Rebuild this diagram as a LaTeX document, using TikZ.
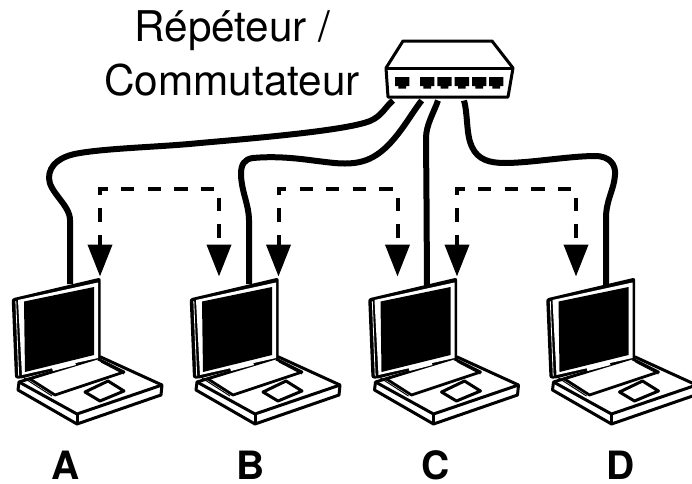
\documentclass[tikz,border=0pt]{standalone}
\usepackage{fontspec}
\setmainfont{TeX Gyre Heros}
\usetikzlibrary{arrows.meta}
\tikzset{
  x=1pt,y=-1pt,
  cable/.style={line width=6pt,line cap=butt,line join=round},
  dashlink/.style={line width=4pt,dash pattern=on 13.3pt off 13.3pt,dash phase=2.6pt,
     {Triangle[length=32pt,width=24pt,sep=0pt]}-{Triangle[length=32pt,width=24pt,sep=0pt]}},
  hull/.style={draw=black,fill=white,line width=3pt,line join=round},
  title/.style={font=\fontsize{42.3}{50}\selectfont,anchor=base,inner sep=0pt},
  letter/.style={font=\fontsize{39}{40}\selectfont\bfseries,anchor=base,inner sep=0pt},
  port/.pic={\fill[black] (0,0)--(14.4,0)--(14.4,9)--(11,9)--(11,11.5)--(3.4,11.5)--(3.4,9)--(0,9)--cycle;},
  laptop/.pic={
    % base
    \draw[hull] (19,382)--(18,390)--(77,424)--(161,395)--(162,385)--(100.7,357)--cycle;
    \draw[line width=3pt,line join=round] (19,382)--(77,414)--(162,385);
    \draw[line width=3pt] (77,414)--(77,424);
    \draw[line width=1pt] (24,378)--(52,396);
    \draw[line width=1pt] (101,362)--(124,374);
    % palm rest outline
    \draw[line width=2.8pt,line join=round] (30,379)--(55,395)--(124,372)--(98,359);
    % touchpad
    \draw[hull] (85,392)--(108,381)--(124,391)--(100,401)--cycle;
    % lid
    \fill[black,rounded corners=2.5pt] (11.7,298.5)--(100.7,277.5)--(100.7,358)--(21.7,378.5)--(15,378.5)--cycle;
    \fill[white] (18,300)--(98,282.5)--(98,358)--(22,375)--cycle;
    \fill[black] (24,301.5)--(94,287)--(94,355)--(25,372)--cycle;
    \draw[white,line width=.8pt] (15.8,301)--(18.7,376);
    \fill[white] (52,368)--(75,362.5)--(76,365)--(53,371)--cycle;
  }
}
\begin{document}
\begin{tikzpicture}
\useasboundingbox (0,0) rectangle (692,483);
% named anchors
\coordinate (swA) at (393,100.5);
\coordinate (swB) at (421.7,100.5);
\coordinate (swC) at (438,100.5);
\coordinate (swD) at (464,100.5);
\coordinate (lapA) at (70,284);
\coordinate (lapB) at (249,284);
\coordinate (lapC) at (427,286);
\coordinate (lapD) at (606,286);
% cables
\draw[cable] (swA) .. controls (386,106) and (382,116) .. (370,121)
  .. controls (345,131) and (245,139) .. (200,143)
  .. controls (160,147) and (110,148) .. (80,153)
  .. controls (60,156) and (49,165) .. (49,178)
  .. controls (49,192) and (70,205) .. (70,220) -- (lapA);
\draw[cable] (swB) .. controls (410,115) and (395,145) .. (373,157)
  .. controls (355,167) and (335,163) .. (317,161)
  .. controls (295,158) and (275,156) .. (253,158)
  .. controls (244,159) and (241,165) .. (241,174)
  .. controls (241,190) and (249,205) .. (249,220) -- (lapB);
\draw[cable] (swC) .. controls (434,112) and (426,125) .. (426,138) -- (426.5,200) -- (lapC);
\draw[cable] (swD) .. controls (468,115) and (466,135) .. (472,147)
  .. controls (478,160) and (490,163) .. (505,163)
  .. controls (530,163) and (570,156) .. (595,156)
  .. controls (610,156) and (616,165) .. (615,175)
  .. controls (614,190) and (606,200) .. (606,218) -- (lapD);
% switch
\coordinate (swTL) at (403,41);
\coordinate (swTR) at (492,41);
\coordinate (swL) at (386,68);
\coordinate (swR) at (513,68);
\coordinate (swBL) at (388,97);
\coordinate (swBR) at (508,97);
\draw[hull] (swL)--(swTL)--(swTR)--(swR)--(swBR)--(swBL)--cycle;
\draw[line width=3pt] (swL)--(swR);
\foreach \px/\nm in {395/a,420/b,437.3/c,454.6/d,472/e,489/f}{
  \pic (port\nm) at (\px,77) {port};
}
% laptops
\pic (pcA) at (0,0) {laptop};
\pic (pcB) at (178,0) {laptop};
\pic (pcC) at (356.5,0) {laptop};
\pic (pcD) at (534.5,0) {laptop};
% dashed links
\foreach \n/\xa/\xb in {a/100/219,b/278.5/397.5,c/457/576}{
  \coordinate (t\n1) at (\xa,276.5);
  \coordinate (t\n2) at (\xb,276.5);
  \coordinate (c\n1) at (\xa,189.3);
  \coordinate (c\n2) at (\xb,189.3);
  \draw[dashlink] (t\n1)--(c\n1)--(c\n2)--(t\n2);
}
% text
\node[title] (rep) at (232.5,41.7) {Répéteur /};
\node[title] (com) at (232,95) {Commutateur};
\node[letter] (la) at (66,479) {A};
\node[letter] (lb) at (251,479) {B};
\node[letter] (lc) at (436,479) {C};
\node[letter] (ld) at (620.5,479) {D};
\end{tikzpicture}
\end{document}
